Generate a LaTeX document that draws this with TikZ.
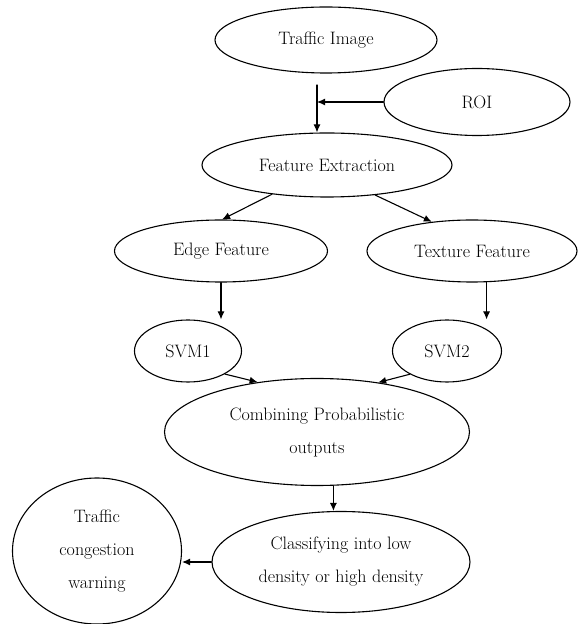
\documentclass[tikz,border=0pt]{standalone}
\usetikzlibrary{shapes.geometric,arrows.meta}

\begin{document}
\begin{tikzpicture}[
  x=1pt, y=1pt,
  line join=round, line cap=round,
  bubble/.style={draw, ellipse, line width=1.1pt, inner sep=0pt, align=center,
    font=\fontsize{18}{33}\selectfont},
  arr/.style={line width=1.1pt, -{Latex[length=8pt,width=7pt]}},
]
\useasboundingbox (0,0) rectangle (578,624);

% ── image in, region of interest joins it ─────────────────────────────────
\node[bubble, minimum width=222pt, minimum height=66pt] (ti) at (326,584) {Traffic Image};
\node[bubble, minimum width=186pt, minimum height=67pt] (roi) at (477,522) {ROI};
\node[bubble, minimum width=250pt, minimum height=64pt] (fe) at (327,459) {Feature Extraction};
\coordinate (join) at (317,539);
\draw[arr] (join) -- (fe.north -| join);
\draw[arr] (roi.west) -- (roi.west -| join);

% ── the two feature branches ──────────────────────────────────────────────
\node[bubble, minimum width=213pt, minimum height=62pt] (ef) at (221,373) {Edge Feature};
\node[bubble, minimum width=210pt, minimum height=62pt] (tf) at (472,373) {Texture Feature};
\draw[arr] (fe.208) -- (ef.88);
\draw[arr] (fe.328) -- (tf.144);

% one classifier per branch
\node[bubble, minimum width=107pt, minimum height=62pt] (s1) at (188,273) {SVM1};
\node[bubble, minimum width=109pt, minimum height=62pt] (s2) at (447,273) {SVM2};
\draw[arr] (ef.south) -- (ef.south |- s1.north);
\draw[arr] (tf.295) -- (tf.295 |- s2.north);

% ── fusion and decision ───────────────────────────────────────────────────
\node[bubble, minimum width=305pt, minimum height=107pt] (cp) at (317,192) {Combining Probabilistic\\outputs};
\draw[arr] (s1.-32) -- (cp.140);
\draw[arr] (s2.212) -- (cp.39);

\node[bubble, minimum width=258pt, minimum height=101pt] (cl) at (341,62) {Classifying into low\\density or high density};
\draw[arr] (cp.287) -- (cp.287 |- cl.north);

\node[bubble, minimum width=169pt, minimum height=146pt] (tc) at (97,73) {Traffic\\congestion\\warning};
\draw[arr] (cl.west) -- (cl.west -| tc.east);

\end{tikzpicture}
\end{document}
